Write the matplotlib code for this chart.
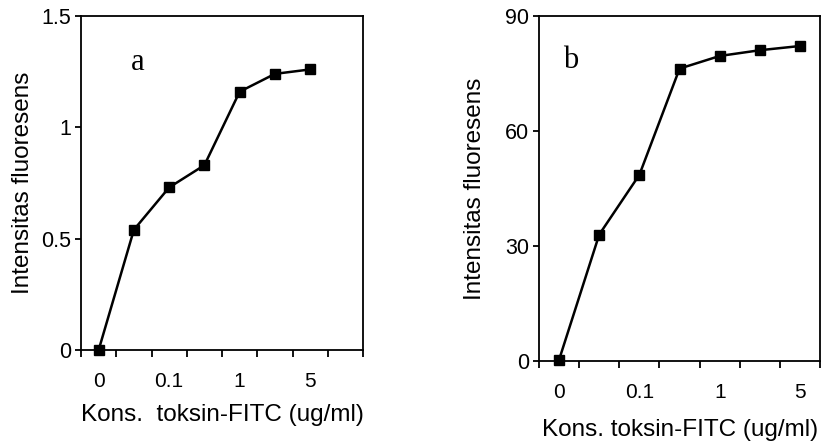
import numpy as np
import matplotlib.pyplot as plt
from matplotlib.ticker import FixedLocator, NullFormatter

plt.rcParams['font.family'] = ['Liberation Sans', 'DejaVu Sans']

# data
conc_labels = ['0', '', '0.1', '', '1', '', '5']
intens_a = [0.0, 0.54, 0.73, 0.83, 1.16, 1.24, 1.26]
intens_b = [0.3, 33.0, 48.6, 76.3, 79.6, 81.1, 82.2]

yticks_a = [0, 0.5, 1, 1.5]
ytick_labels_a = ['0', '0.5', '1', '1.5']
yticks_b = [0, 30, 60, 90]

xlabel = 'Kons.  toksin-FITC (ug/ml)'
xlabel_b = 'Kons. toksin-FITC (ug/ml)'
ylabel = 'Intensitas fluoresens'

fig = plt.figure(figsize=(8.21, 4.45), dpi=100)
ax_a = fig.add_axes([0.0987, 0.2135, 0.3435, 0.7506])
ax_b = fig.add_axes([0.6565, 0.1888, 0.3425, 0.775])


def style(ax, vals, ncat, yt, ytl, ymax, xl, xlpad, ylpad, letter, lpos):
    x = np.arange(len(vals))
    ax.plot(x, vals, color='black', lw=1.8, marker='s', ms=7, mfc='black',
            mec='black', clip_on=False, zorder=3)
    ax.set_xlim(-0.5, ncat - 0.5)
    ax.set_ylim(0, ymax)
    # labels at category centres, tick marks at category borders
    ax.set_xticks(np.arange(len(conc_labels)))
    ax.set_xticklabels(conc_labels)
    ax.xaxis.set_minor_locator(FixedLocator(np.arange(ncat + 1) - 0.5))
    ax.xaxis.set_minor_formatter(NullFormatter())
    ax.tick_params(axis='x', which='major', length=0, pad=16, labelsize=15)
    ax.tick_params(axis='x', which='minor', length=5, width=1.3, direction='out')
    ax.set_yticks(yt)
    ax.set_yticklabels(ytl)
    ax.tick_params(axis='y', length=4, width=1.3, direction='out', pad=3,
                   labelsize=15.5)
    for s in ax.spines.values():
        s.set_linewidth(1.3)
    ax.set_xlabel(xl, fontsize=17.5, labelpad=xlpad)
    ax.set_ylabel(ylabel, fontsize=17.5, labelpad=ylpad)
    ax.text(lpos[0], lpos[1], letter, transform=ax.transAxes, fontsize=22,
            family='Liberation Serif', ha='center', va='center')


style(ax_a, intens_a, 8, yticks_a, ytick_labels_a, 1.5, xlabel, 9, 5, 'a',
      (0.2, 0.86))
style(ax_b, intens_b, 7, yticks_b, [str(v) for v in yticks_b], 90, xlabel_b,
      12, 14, 'b', (0.114, 0.872))

fig.savefig('out.png', dpi=100)
